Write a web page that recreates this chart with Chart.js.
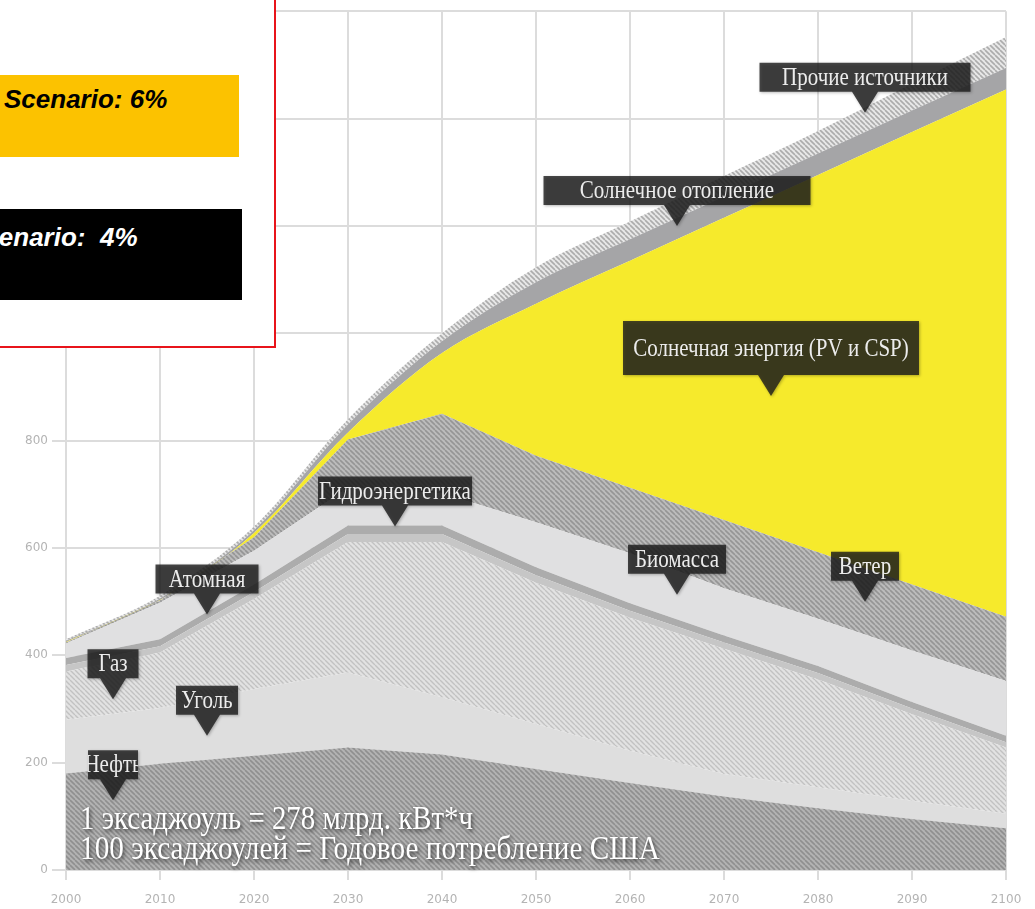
<!DOCTYPE html>
<html>
<head>
<meta charset="utf-8">
<script src="https://cdn.jsdelivr.net/npm/chart.js@4/dist/chart.umd.min.js"></script>
<style>
  body { margin: 0; background: #fff; }
  #wrap { position: relative; width: 1035px; height: 909px; overflow: hidden; }
  #note {
    position: absolute; left: -10px; top: -10px; width: 286px; height: 358px;
    box-sizing: border-box; border: 2px solid #e8141b; background: #fff;
  }
  .scen {
    position: absolute; left: 0; font: italic bold 26px "Liberation Sans", Arial, sans-serif;
    line-height: 26px; white-space: pre; overflow: hidden;
  }
  .scen span { position: absolute; }
</style>
</head>
<body>
<div id="wrap">
  <canvas id="energyChart" width="1035" height="909"></canvas>
  <div id="note"></div>
  <div class="scen" style="top:75px;width:239px;height:82px;background:#fcc200;color:#000">
    <span style="left:4px;top:11px">Scenario: 6%</span>
  </div>
  <div class="scen" style="top:209px;width:242px;height:91px;background:#000;color:#fff">
    <span style="left:-33px;top:15px">Scenario:  4%</span>
  </div>
</div>
<script>
// world energy supply by source, exajoules
const years = [2000, 2010, 2020, 2030, 2040, 2050, 2060, 2070, 2080, 2090, 2100];
const oil = [180, 198, 213, 228, 215, 188, 162, 137, 115, 95, 78];
const coal = [100, 104, 124, 140, 107, 84, 60, 42, 39, 34, 27];
const gas = [90, 103, 168, 243, 289, 263, 248, 233, 201, 161, 123];
const nuclear = [12, 12, 13, 15, 15, 14, 13, 12, 12, 11, 10];
const hydro = [13, 13, 14, 16, 16, 15, 14, 13, 13, 12, 12];
const biomass = [27, 68, 63, 70, 60, 84, 93, 88, 88, 96, 102];
const wind = [2, 4, 25, 90, 148, 124, 122, 127, 124, 123, 120];
const solarPV = [1, 1, 8, 13, 113, 283, 423, 563, 703, 843, 982];
const solarHeat = [2, 3, 5, 15, 22, 40, 40, 40, 40, 40, 40];
const other = [3, 5, 7, 10, 15, 28, 33, 38, 42, 50, 58];

const yTicks = [0, 200, 400, 600, 800, 1000, 1200, 1400, 1600];

// callouts: label text, year and value the pointer touches, box width
const callouts = [
  { text: "Прочие источники", year: 2085, value: 1411, w: 211 },
  { text: "Солнечное отопление", year: 2065, value: 1200, w: 267 },
  { text: "Солнечная энергия (PV и CSP)", year: 2075, value: 883, w: 296, tall: true },
  { text: "Гидроэнергетика", year: 2035, value: 640, w: 154 },
  { text: "Биомасса", year: 2065, value: 513, w: 98 },
  { text: "Ветер", year: 2085, value: 500, w: 68 },
  { text: "Атомная", year: 2015, value: 476, w: 103 },
  { text: "Газ", year: 2005, value: 318, w: 51 },
  { text: "Уголь", year: 2015, value: 250, w: 62 },
  { text: "Нефть", year: 2005, value: 130, w: 50 }
];

const noteLines = ["1 эксаджоуль = 278 млрд. кВт*ч", "100 эксаджоулей = Годовое потребление США"];

function hatch(bg, fg, size, lw) {
  const c = document.createElement("canvas");
  c.width = c.height = size;
  const g = c.getContext("2d");
  g.fillStyle = bg;
  g.fillRect(0, 0, size, size);
  g.strokeStyle = fg;
  g.lineWidth = lw;
  g.beginPath();
  for (let k = -size; k <= size; k += size) {
    g.moveTo(k, 0);
    g.lineTo(k + size, size);
  }
  g.stroke();
  return g.createPattern(c, "repeat");
}

// smooth: the solar and "other" layers bend gently instead of kinking
const series = [
  { label: "Нефть", data: oil, bg: hatch("#b3b3b3", "#8f8f8f", 5, 1.6) },
  { label: "Уголь", data: coal, bg: "#dedede" },
  { label: "Газ", data: gas, bg: hatch("#e2e2e2", "#c2c2c2", 5, 1.4) },
  { label: "Атомная", data: nuclear, bg: "#c6c6c6" },
  { label: "Гидроэнергетика", data: hydro, bg: "#acacac" },
  { label: "Биомасса", data: biomass, bg: "#e0e0e1" },
  { label: "Ветер", data: wind, bg: hatch("#bcbcbc", "#959595", 5, 1.6) },
  { label: "Солнечная энергия", data: solarPV, bg: "#f6ea2c", smooth: true },
  { label: "Солнечное отопление", data: solarHeat, bg: "#a5a5a7", smooth: true },
  { label: "Прочие источники", data: other, bg: hatch("#e8e8e8", "#acacac", 5, 1.6), smooth: true }
];

const datasets = series.map((s, i) => ({
  label: s.label,
  data: s.data,
  backgroundColor: s.bg,
  borderWidth: 0,
  pointRadius: 0,
  tension: 0,
  cubicInterpolationMode: s.smooth ? "monotone" : "default",
  fill: i === 0 ? "origin" : "-1"
}));

const overlayPlugin = {
  id: "overlay",
  afterDatasetsDraw(chart) {
    const { ctx, chartArea, scales: { x, y } } = chart;
    ctx.save();

    // footnote in white with a dark drop shadow
    ctx.font = '34px "Liberation Serif", serif';
    ctx.fillStyle = "#ffffff";
    ctx.shadowColor = "rgba(0,0,0,0.75)";
    ctx.shadowBlur = 4;
    ctx.shadowOffsetX = 1;
    ctx.shadowOffsetY = 2;
    ctx.textBaseline = "alphabetic";
    const widths = [393, 580];
    noteLines.forEach((t, i) => {
      const sx = widths[i] / ctx.measureText(t).width;
      ctx.save();
      ctx.translate(chartArea.left + 14, chartArea.bottom - 41 + i * 30);
      ctx.scale(sx, 1);
      ctx.fillText(t, 0, 0);
      ctx.restore();
    });

    // dark callout boxes with a pointer, condensed serif text
    ctx.font = '25px "Liberation Serif", serif';
    callouts.forEach(c => {
      const tx = x.getPixelForValue(c.year);
      const ty = y.getPixelForValue(c.value);
      const h = c.tall ? 54 : 29;
      const w = c.w;
      const bottom = ty - 21;
      ctx.shadowColor = "rgba(0,0,0,0.35)";
      ctx.shadowBlur = 3;
      ctx.shadowOffsetY = 1;
      ctx.fillStyle = "rgba(28,28,28,0.8)";
      ctx.beginPath();
      ctx.moveTo(tx - w / 2, bottom - h);
      ctx.lineTo(tx + w / 2, bottom - h);
      ctx.lineTo(tx + w / 2, bottom);
      ctx.lineTo(tx + 13, bottom);
      ctx.lineTo(tx, ty);
      ctx.lineTo(tx - 13, bottom);
      ctx.lineTo(tx - w / 2, bottom);
      ctx.closePath();
      ctx.fill();
      ctx.shadowColor = "transparent";
      ctx.save();
      ctx.beginPath();
      ctx.rect(tx - w / 2, bottom - h, w, h);
      ctx.clip();
      ctx.translate(tx, bottom - h / 2 + 1);
      ctx.scale(0.84, 1);
      ctx.fillStyle = "#ececec";
      ctx.textAlign = "center";
      ctx.textBaseline = "middle";
      ctx.fillText(c.text, 0, 0);
      ctx.restore();
    });
    ctx.restore();
  }
};

new Chart(document.getElementById("energyChart"), {
  type: "line",
  data: { labels: years, datasets: datasets },
  plugins: [overlayPlugin],
  options: {
    responsive: false,
    animation: false,
    layout: { padding: { top: 7, right: 29, left: 0, bottom: 0 } },
    plugins: { legend: { display: false }, tooltip: { enabled: false } },
    scales: {
      x: {
        type: "linear",
        min: 2000,
        max: 2100,
        afterFit: s => { s.height = 39; },
        grid: { color: "#dcdcdc", lineWidth: 2, tickLength: 10 },
        border: { color: "#dcdcdc", width: 2 },
        ticks: {
          stepSize: 10,
          padding: 13,
          color: "#b4b4b4",
          font: { family: "DejaVu Sans", size: 12 },
          callback: v => String(v)
        }
      },
      y: {
        stacked: true,
        min: 0,
        max: 1600,
        afterFit: s => { s.width = 66; },
        afterBuildTicks: s => { s.ticks = yTicks.map(v => ({ value: v })); },
        grid: { color: "#dcdcdc", lineWidth: 2, tickLength: 14 },
        border: { color: "#dcdcdc", width: 2 },
        ticks: {
          padding: 4,
          color: "#b4b4b4",
          font: { family: "DejaVu Sans", size: 12 }
        }
      }
    }
  }
});
</script>
</body>
</html>
